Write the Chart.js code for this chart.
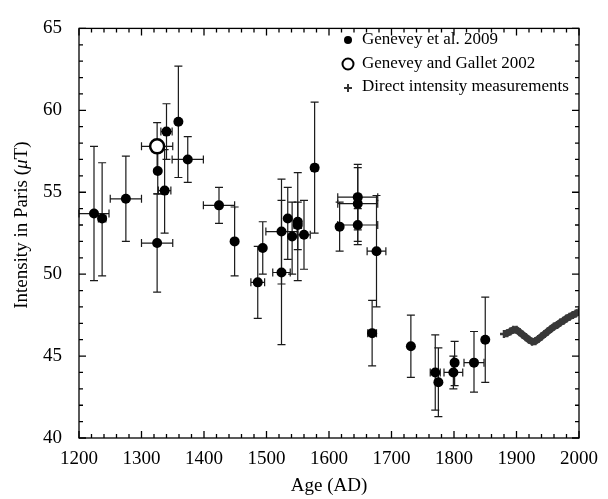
<!DOCTYPE html>
<html>
<head>
<meta charset="utf-8">
<title>Intensity in Paris</title>
<script src="https://cdn.jsdelivr.net/npm/chart.js@4.4.1/dist/chart.umd.min.js"></script>
<style>
    html, body { margin: 0; padding: 0; background: #fff; }
    #wrap { width: 608px; height: 499px; position: relative; }
</style>
</head>
<body>
<div id="wrap"><canvas id="chart"></canvas></div>
<script>
// Genevey et al. 2009 (age, intensity, age error, intensity low/high)
const genYears = [1224, 1237, 1275, 1325, 1326, 1337, 1340, 1359, 1374, 1424, 1449, 1486, 1494, 1524, 1524, 1534, 1541, 1550, 1550, 1560, 1577, 1617, 1646, 1646, 1646, 1676, 1669, 1731, 1770, 1775, 1801, 1799, 1832, 1850];
const genValues = [53.7, 53.4, 54.6, 51.9, 56.3, 55.1, 58.7, 59.3, 57.0, 54.2, 52.0, 49.5, 51.6, 50.1, 52.6, 53.4, 52.3, 53.2, 53.0, 52.4, 56.5, 52.9, 54.7, 54.3, 53.0, 51.4, 46.4, 45.6, 44.0, 43.4, 44.6, 44.0, 44.6, 46.0];
const genAgeErr = [24, 6, 25, 25, 0, 10, 9, 0, 25, 25, 0, 11, 0, 14, 25, 0, 0, 0, 6, 10, 5, 3, 32, 32, 32, 15, 7, 0, 8, 0, 0, 15, 16, 0];
const genLow = [49.6, 49.9, 52.0, 48.9, 54.9, 52.5, 57.0, 55.9, 55.6, 53.1, 49.9, 47.3, 50.0, 45.7, 49.4, 50.9, 50.0, 49.6, 51.5, 50.3, 52.5, 51.4, 52.7, 51.8, 52.0, 48.0, 44.4, 43.7, 41.7, 41.3, 43.2, 43.0, 42.8, 43.4];
const genHigh = [57.8, 56.8, 57.2, 54.9, 57.7, 57.6, 60.4, 62.7, 58.4, 55.3, 54.1, 51.7, 53.2, 54.5, 55.8, 55.3, 54.4, 56.2, 54.4, 54.5, 60.5, 54.4, 56.7, 56.5, 54.0, 54.8, 48.4, 47.5, 46.3, 45.5, 45.9, 45.0, 46.5, 48.6];

// Genevey and Gallet 2002
const galYears = [1325];
const galValues = [57.8];
const galAgeErr = [25];
const galLow = [56.4];
const galHigh = [59.25];

// Direct intensity measurements
const dirYears = [1880, 1885, 1890, 1895, 1900, 1905, 1910, 1915, 1920, 1925, 1930, 1935, 1940, 1945, 1950, 1955, 1960, 1965, 1970, 1975, 1980, 1985, 1990, 1995, 2000];
const dirValues = [46.35, 46.4, 46.5, 46.6, 46.6, 46.45, 46.3, 46.15, 46.0, 45.88, 45.9, 46.05, 46.2, 46.35, 46.5, 46.65, 46.8, 46.9, 47.05, 47.15, 47.3, 47.4, 47.5, 47.6, 47.7];

// Axis ticks
const xTicks = [1200, 1300, 1400, 1500, 1600, 1700, 1800, 1900, 2000];
const yTicks = [40, 45, 50, 55, 60, 65];

const FONT = "'Liberation Serif', 'Times New Roman', serif";

function toPoints(xs, ys) {
    return xs.map((x, i) => ({ x: x, y: ys[i] }));
}

// Error bars, drawn through the scales
const errorBars = {
    id: 'errorBars',
    beforeDatasetsDraw(chart) {
        const { ctx, scales: { x, y } } = chart;
        const sets = [
            [genYears, genValues, genAgeErr, genLow, genHigh],
            [galYears, galValues, galAgeErr, galLow, galHigh]
        ];
        const cap = 4;
        ctx.save();
        ctx.strokeStyle = '#1a1a1a';
        ctx.lineWidth = 1.2;
        sets.forEach(([xs, vs, xe, lo, hi]) => {
            xs.forEach((yr, i) => {
                const px = x.getPixelForValue(yr);
                const py = y.getPixelForValue(vs[i]);
                const top = y.getPixelForValue(hi[i]);
                const bot = y.getPixelForValue(lo[i]);
                ctx.beginPath();
                ctx.moveTo(px, top); ctx.lineTo(px, bot);
                ctx.moveTo(px - cap, top); ctx.lineTo(px + cap, top);
                ctx.moveTo(px - cap, bot); ctx.lineTo(px + cap, bot);
                if (xe[i] > 0) {
                    const l = x.getPixelForValue(yr - xe[i]);
                    const r = x.getPixelForValue(yr + xe[i]);
                    ctx.moveTo(l, py); ctx.lineTo(r, py);
                    ctx.moveTo(l, py - cap); ctx.lineTo(l, py + cap);
                    ctx.moveTo(r, py - cap); ctx.lineTo(r, py + cap);
                }
                ctx.stroke();
            });
        });
        ctx.restore();
    }
};

// Frame, inward ticks, axis titles and legend
const frame = {
    id: 'frame',
    afterDraw(chart) {
        const { ctx, chartArea: a, scales: { x, y } } = chart;
        ctx.save();
        ctx.strokeStyle = '#000';
        ctx.lineWidth = 1.3;
        ctx.strokeRect(a.left, a.top, a.right - a.left, a.bottom - a.top);

        ctx.beginPath();
        for (let v = x.min; v <= x.max; v += 20) {
            const px = x.getPixelForValue(v);
            const len = v % 100 === 0 ? 7 : 4;
            ctx.moveTo(px, a.bottom); ctx.lineTo(px, a.bottom - len);
            ctx.moveTo(px, a.top); ctx.lineTo(px, a.top + len);
        }
        for (let v = y.min; v <= y.max; v += 1) {
            const py = y.getPixelForValue(v);
            const len = v % 5 === 0 ? 7 : 4;
            ctx.moveTo(a.left, py); ctx.lineTo(a.left + len, py);
            ctx.moveTo(a.right, py); ctx.lineTo(a.right - len, py);
        }
        ctx.stroke();

        // axis titles
        ctx.fillStyle = '#000';
        ctx.textBaseline = 'middle';
        ctx.textAlign = 'center';
        ctx.font = '19px ' + FONT;
        ctx.fillText('Age (AD)', (a.left + a.right) / 2, 486);

        ctx.save();
        ctx.translate(22, (a.top + a.bottom) / 2 - 8);
        ctx.rotate(-Math.PI / 2);
        const parts = [['Intensity in Paris (', ''], ['\u03BC', 'italic '], ['T)', '']];
        let total = 0;
        parts.forEach(p => { ctx.font = p[1] + '19px ' + FONT; total += ctx.measureText(p[0]).width; });
        let cx = -total / 2;
        ctx.textAlign = 'left';
        parts.forEach(p => {
            ctx.font = p[1] + '19px ' + FONT;
            ctx.fillText(p[0], cx, 0);
            cx += ctx.measureText(p[0]).width;
        });
        ctx.restore();

        // legend
        ctx.font = '17px ' + FONT;
        ctx.textAlign = 'left';
        const lx = 348, tx = 362;
        ctx.beginPath(); ctx.arc(lx, 40, 4, 0, Math.PI * 2); ctx.fill();
        ctx.fillText('Genevey et al. 2009', tx, 40);
        ctx.beginPath(); ctx.arc(lx, 64, 5.5, 0, Math.PI * 2);
        ctx.lineWidth = 2; ctx.stroke();
        ctx.fillText('Genevey and Gallet 2002', tx, 64);
        ctx.strokeStyle = '#333'; ctx.lineWidth = 2;
        ctx.beginPath();
        ctx.moveTo(lx - 4, 88); ctx.lineTo(lx + 4, 88);
        ctx.moveTo(lx, 84); ctx.lineTo(lx, 92);
        ctx.stroke();
        ctx.fillText('Direct intensity measurements', tx, 87);
        ctx.restore();
    }
};

new Chart(document.getElementById('chart'), {
    type: 'scatter',
    data: {
        datasets: [
            {
                label: 'Direct intensity measurements',
                type: 'line',
                data: toPoints(dirYears, dirValues),
                borderColor: '#383838',
                backgroundColor: '#383838',
                borderWidth: 7,
                borderJoinStyle: 'round',
                pointStyle: 'cross',
                pointRadius: 4,
                pointBorderWidth: 2.5,
                tension: 0,
                fill: false
            },
            {
                label: 'Genevey et al. 2009',
                data: toPoints(genYears, genValues),
                backgroundColor: '#000',
                borderColor: '#000',
                pointRadius: 5,
                pointBorderWidth: 0
            },
            {
                label: 'Genevey and Gallet 2002',
                data: toPoints(galYears, galValues),
                backgroundColor: '#fff',
                borderColor: '#000',
                pointRadius: 7,
                pointBorderWidth: 2.5
            }
        ]
    },
    options: {
        responsive: true,
        maintainAspectRatio: false,
        animation: false,
        layout: { padding: { top: 15, right: 25, left: 0, bottom: 0 } },
        plugins: { legend: { display: false }, tooltip: { enabled: false } },
        scales: {
            x: {
                type: 'linear',
                min: 1200, max: 2000,
                afterBuildTicks: s => { s.ticks = xTicks.map(v => ({ value: v })); },
                afterFit: s => { s.height = 61; },
                grid: { display: false, drawTicks: false },
                border: { display: false },
                ticks: {
                    font: { family: FONT, size: 19 }, color: '#000', padding: 10, maxRotation: 0,
                    callback: v => String(v)
                }
            },
            y: {
                type: 'linear',
                min: 40, max: 65,
                afterBuildTicks: s => { s.ticks = yTicks.map(v => ({ value: v })); },
                afterFit: s => { s.width = 79; },
                grid: { display: false, drawTicks: false },
                border: { display: false },
                ticks: { font: { family: FONT, size: 19 }, color: '#000', padding: 17, callback: v => String(v) }
            }
        }
    },
    plugins: [errorBars, frame]
});
</script>
</body>
</html>
